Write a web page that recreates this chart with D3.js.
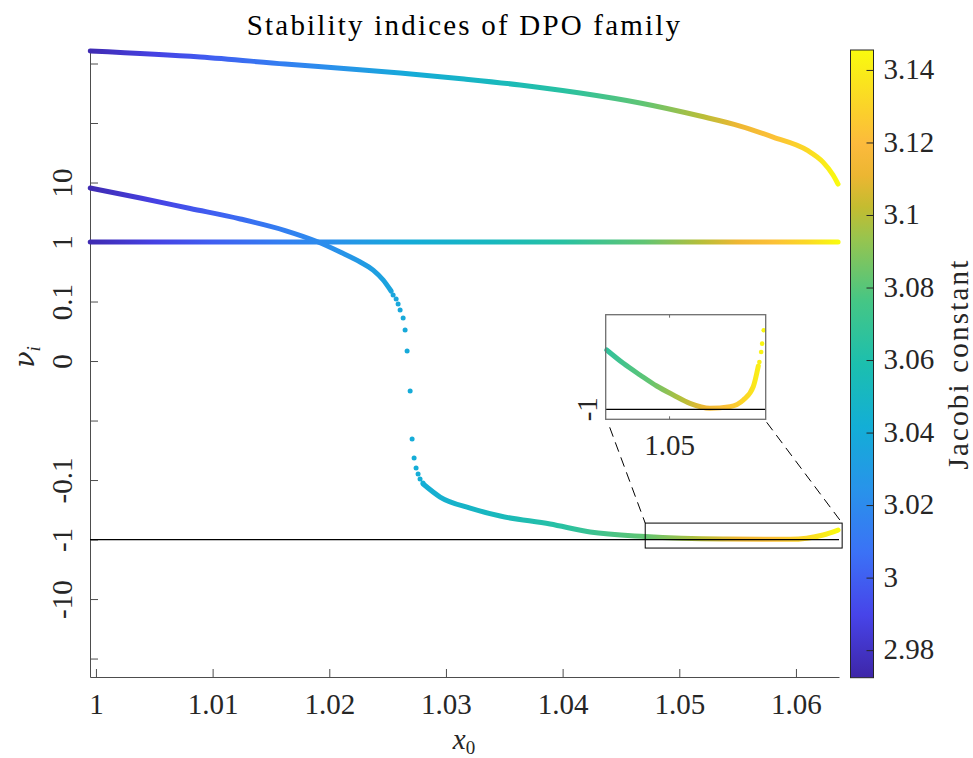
<!DOCTYPE html>
<html>
<head>
<meta charset="utf-8">
<title>Stability indices of DPO family</title>
<script src="https://d3js.org/d3.v7.min.js"></script>
<style>
  body { margin: 0; background: #fff; }
  svg { display: block; }
  svg text { font-family: "Liberation Serif", "DejaVu Serif", serif; }
  .lbl { letter-spacing: 2.2px; }
</style>
</head>
<body>
<div id="chart"></div>
<script>
// Jacobi constant along the family
var jacobiX = [0.9995, 1.005, 1.010, 1.016, 1.020, 1.027, 1.034, 1.040, 1.047, 1.052, 1.055, 1.058, 1.061, 1.0636];
var jacobiC = [2.975, 2.988, 3.000, 3.014, 3.022, 3.040, 3.052, 3.064, 3.082, 3.100, 3.112, 3.122, 3.132, 3.145];

// first stability index (large branch)
var nu1X = [0.99951, 1.00894, 1.01622, 1.02179, 1.02608, 1.03156, 1.03636, 1.04150, 1.04664, 1.05178, 1.05521, 1.05804, 1.06095, 1.06232, 1.06318, 1.06361];
var nu1  = [1622, 1286, 981, 809, 692, 548, 435, 319, 217, 131, 89, 58, 35, 22, 13.4, 9.4];

// trivial pair, nu = 1
var unitX = [0.99951, 1.06361];
var unitNu = [1, 1];

// second index, upper part
var nu2X = [0.99951, 1.00380, 1.00808, 1.01237, 1.01622, 1.01905, 1.02093, 1.02265, 1.02376, 1.02462, 1.02530];
var nu2  = [8.09, 5.49, 3.66, 2.44, 1.56, 1.0, 0.679, 0.461, 0.338, 0.230, 0.150];

// second index, sparse points crossing zero
var jumpX = [1.02547, 1.02573, 1.02590, 1.02607, 1.02633, 1.02650, 1.02667, 1.02693, 1.02710, 1.02727, 1.02744, 1.02761, 1.02778, 1.02803];
var jumpNu = [0.1285, 0.110, 0.0958, 0.0857, 0.0723, 0.0521, 0.0168, -0.00504, -0.0205, -0.0427, -0.0628, -0.0792, -0.0962, -0.112];

// second index, lower part
var nu2bX = [1.02805, 1.02950, 1.03208, 1.03465, 1.03893, 1.04236, 1.04707, 1.05375, 1.05950, 1.06233, 1.06361];
var nu2b  = [-0.1167, -0.193, -0.296, -0.403, -0.548, -0.748, -0.891, -0.981, -0.993, -0.839, -0.692];

// zoomed inset of the lower part
var insetX  = [1.04104, 1.04341, 1.04579, 1.04817, 1.05053, 1.05291, 1.05576, 1.05861, 1.06051, 1.06193, 1.06265];
var insetNu = [-0.9373, -0.9514, -0.9637, -0.9754, -0.9849, -0.9937, -0.9989, -0.9972, -0.9902, -0.9761, -0.9542];
var insetDotX  = [1.06280, 1.06305, 1.06319, 1.06342];
var insetDotNu = [-0.9500, -0.9395, -0.9306, -0.9165];

var zoomBoxX = [1.04708, 1.06396];
var zoomBoxNu = [-0.529, -1.39];

var xTicks = [1, 1.01, 1.02, 1.03, 1.04, 1.05, 1.06];
var yTicks = [1000, 100, 10, 1, 0.1, 0, -0.01, -0.1, -1, -10, -100];
var yTickLabels = ["", "", "10", "1", "0.1", "0", "", "-0.1", "-1", "-10", ""];
var cTicks = [2.98, 3.00, 3.02, 3.04, 3.06, 3.08, 3.10, 3.12, 3.14];

// parula-like colormap
var parulaT = [0, 0.1, 0.2, 0.3, 0.4, 0.5, 0.6, 0.7, 0.75, 0.8, 0.85, 0.9, 1];
var parulaC = ["#3e26a8", "#4744e9", "#3b72f6", "#2893ea", "#13aed6", "#1cbfae", "#45c685",
               "#98c44e", "#c4bc30", "#ecb632", "#fcba3c", "#fbcf2c", "#f9fb0e"];
var parula = d3.scaleLinear().domain(parulaT).range(parulaC).interpolate(d3.interpolateRgb);

var W = 973, H = 758;
var L = 90, R = 839, T = 50, B = 677;

// signed log transform used on the vertical axis
function sl(v) {
  if (v >= 0.1) return Math.log10(v) + 2;
  if (v >= 0) return v / 0.1;
  if (v > -0.01) return v / 0.01;
  return -(Math.log10(-v) + 3);
}

var x = d3.scaleLinear().domain([0.99949, 1.06369]).range([L, R]);
var y = d3.scaleLinear().domain([-5.31, 5.227]).range([B, T]);
var cNorm = d3.scaleLinear().domain([2.9724, 3.1455]).range([0, 1]);
var cOfX = d3.scaleLinear().domain(jacobiX).range(jacobiC).clamp(true);
var colorAt = function (xv) { return parula(cNorm(cOfX(xv))); };

var svg = d3.select("#chart").append("svg")
  .attr("width", W).attr("height", H);
var defs = svg.append("defs");

function addGradient(id, xs) {
  var g = defs.append("linearGradient").attr("id", id)
    .attr("gradientUnits", "userSpaceOnUse")
    .attr("x1", xs(jacobiX[0])).attr("x2", xs(jacobiX[jacobiX.length - 1]))
    .attr("y1", 0).attr("y2", 0);
  var x0 = xs(jacobiX[0]), x1 = xs(jacobiX[jacobiX.length - 1]);
  jacobiX.forEach(function (d, i) {
    g.append("stop").attr("offset", (xs(d) - x0) / (x1 - x0))
      .attr("stop-color", parula(cNorm(jacobiC[i])));
  });
}
addGradient("jacGrad", x);

// axes
var gx = svg.append("g").attr("transform", "translate(0," + B + ")")
  .call(d3.axisBottom(x).tickValues(xTicks).tickSize(-8).tickSizeOuter(0)
    .tickFormat(d3.format("~g")));
gx.attr("font-family", null).attr("font-size", 29);
gx.selectAll("text").attr("y", 37).attr("dy", 0).attr("fill", "#262626");

var gy = svg.append("g").attr("transform", "translate(" + L + ",0)")
  .call(d3.axisLeft(y).tickValues(yTicks.map(sl)).tickSize(-8).tickSizeOuter(0)
    .tickFormat(function (d, i) { return yTickLabels[i]; }));
gy.attr("font-family", null).attr("font-size", 29).attr("text-anchor", "middle");
gy.selectAll("text")
  .attr("x", null).attr("dy", null)
  .attr("fill", "#262626")
  .attr("transform", "translate(-18,0) rotate(-90)");
[gx, gy].forEach(function (g) {
  g.select(".domain").attr("stroke", "#4d4d4d");
  g.selectAll(".tick line").attr("stroke", "#4d4d4d");
});

// curves
var line = function (xs, ys) {
  return d3.line().x(function (d) { return xs(d[0]); }).y(function (d) { return ys(d[1]); })
    .curve(d3.curveMonotoneX);
};
var Y = function (v) { return y(sl(v)); };

function drawCurve(xs, vs) {
  svg.append("path").datum(xs.map(function (d, i) { return [d, vs[i]]; }))
    .attr("d", line(x, Y))
    .attr("fill", "none").attr("stroke", "url(#jacGrad)")
    .attr("stroke-width", 5).attr("stroke-linecap", "round");
}
drawCurve(nu1X, nu1);
drawCurve(unitX, unitNu);
drawCurve(nu2X, nu2);
drawCurve(nu2bX, nu2b);

svg.append("g").selectAll("circle").data(jumpX).join("circle")
  .attr("cx", function (d) { return x(d); })
  .attr("cy", function (d, i) { return Y(jumpNu[i]); })
  .attr("r", 2.5).attr("fill", function (d) { return colorAt(d); });

// nu = -1 reference line
svg.append("line").attr("x1", L).attr("x2", R).attr("y1", Y(-1)).attr("y2", Y(-1))
  .attr("stroke", "#000").attr("stroke-width", 1.2);

// zoom box
svg.append("rect")
  .attr("x", x(zoomBoxX[0])).attr("y", Y(zoomBoxNu[0]))
  .attr("width", x(zoomBoxX[1]) - x(zoomBoxX[0]))
  .attr("height", Y(zoomBoxNu[1]) - Y(zoomBoxNu[0]))
  .attr("fill", "none").attr("stroke", "#000").attr("stroke-width", 1);

// inset
var iL = 605.7, iR = 765.7, iT = 314.7, iB = 419.3;
var ix = d3.scaleLinear().domain([1.0409, 1.0637]).range([iL, iR]);
var iy = d3.scaleLinear().domain([-1.0106, -0.9]).range([iB, iT]);
addGradient("insetGrad", ix);

svg.append("line").attr("x1", iL + 4).attr("y1", iB + 8)
  .attr("x2", x(zoomBoxX[0])).attr("y2", Y(zoomBoxNu[0]))
  .attr("stroke", "#000").attr("stroke-dasharray", "10,6");
svg.append("line").attr("x1", iR + 1).attr("y1", iB + 3)
  .attr("x2", x(zoomBoxX[1])).attr("y2", Y(zoomBoxNu[0]))
  .attr("stroke", "#000").attr("stroke-dasharray", "10,6");

svg.append("rect").attr("x", iL).attr("y", iT).attr("width", iR - iL).attr("height", iB - iT)
  .attr("fill", "#fff");
svg.append("path").datum(insetX.map(function (d, i) { return [d, insetNu[i]]; }))
  .attr("d", line(ix, iy))
  .attr("fill", "none").attr("stroke", "url(#insetGrad)")
  .attr("stroke-width", 5).attr("stroke-linecap", "round");
svg.append("g").selectAll("circle").data(insetDotX).join("circle")
  .attr("cx", function (d) { return ix(d); })
  .attr("cy", function (d, i) { return iy(insetDotNu[i]); })
  .attr("r", 2.3).attr("fill", function (d) { return colorAt(d); });
svg.append("line").attr("x1", iL).attr("x2", iR).attr("y1", iy(-1)).attr("y2", iy(-1))
  .attr("stroke", "#000").attr("stroke-width", 1.2);
svg.append("rect").attr("x", iL).attr("y", iT).attr("width", iR - iL).attr("height", iB - iT)
  .attr("fill", "none").attr("stroke", "#6e6e6e").attr("stroke-width", 1.3);
[iT, iB].forEach(function (yy, k) {
  svg.append("line").attr("x1", ix(1.05)).attr("x2", ix(1.05))
    .attr("y1", yy).attr("y2", yy + (k ? -3 : 3)).attr("stroke", "#6e6e6e");
});
svg.append("text").attr("x", ix(1.05)).attr("y", 455).attr("text-anchor", "middle")
  .attr("font-size", 29).attr("fill", "#262626").text("1.05");
svg.append("text").attr("transform", "translate(597," + iy(-1) + ") rotate(-90)")
  .attr("text-anchor", "middle").attr("font-size", 29).attr("fill", "#262626").text("-1");

// colorbar
var cbL = 850.5, cbW = 23;
var cy = d3.scaleLinear().domain([2.9724, 3.1455]).range([677.7, 50]);
var cg = defs.append("linearGradient").attr("id", "cbGrad")
  .attr("x1", 0).attr("x2", 0).attr("y1", 1).attr("y2", 0);
parulaT.forEach(function (t, i) {
  cg.append("stop").attr("offset", t).attr("stop-color", parulaC[i]);
});
svg.append("rect").attr("x", cbL).attr("y", cy.range()[1]).attr("width", cbW)
  .attr("height", cy.range()[0] - cy.range()[1])
  .attr("fill", "url(#cbGrad)").attr("stroke", "#262626").attr("stroke-width", 1);
var gc = svg.append("g").attr("transform", "translate(" + (cbL + cbW) + ",0)")
  .call(d3.axisRight(cy).tickValues(cTicks).tickSize(-7).tickSizeOuter(0)
    .tickFormat(function (d) { return String(+d.toFixed(2)); }));
gc.attr("font-family", null).attr("font-size", 29);
gc.select(".domain").remove();
gc.selectAll(".tick line").attr("stroke", "#262626");
gc.selectAll("text").attr("x", 10).attr("dy", "0.3em").attr("fill", "#262626");

// titles
svg.append("text").attr("class", "lbl").attr("x", (L + R) / 2).attr("y", 35)
  .attr("text-anchor", "middle").attr("font-size", 29).attr("fill", "#000")
  .text("Stability indices of DPO family");

var xl = svg.append("text").attr("x", 464).attr("y", 749).attr("text-anchor", "middle")
  .attr("font-size", 29).attr("fill", "#262626");
xl.append("tspan").attr("font-style", "italic").text("x");
xl.append("tspan").attr("font-size", 19).attr("dy", 5).text("0");

var yl = svg.append("text").attr("transform", "translate(34,357) rotate(-90)")
  .attr("text-anchor", "middle").attr("font-size", 27).attr("fill", "#262626");
yl.append("tspan").attr("font-style", "italic").attr("font-family", "DejaVu Serif").text("ν");
yl.append("tspan").attr("font-style", "italic").attr("font-size", 19).attr("dy", 6).text("i");

svg.append("text").attr("class", "lbl").attr("transform", "translate(968,364) rotate(-90)")
  .attr("text-anchor", "middle").attr("font-size", 29).attr("fill", "#262626")
  .text("Jacobi constant");
</script>
</body>
</html>
